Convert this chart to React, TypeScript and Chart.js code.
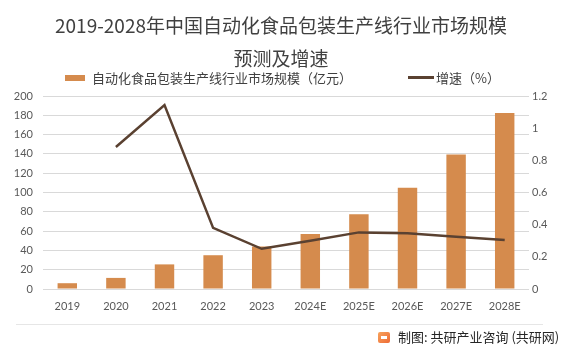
import React, { useEffect, useRef } from "react";
import { Chart, registerables } from "chart.js";

Chart.register(...registerables);

const categories = ["2019", "2020", "2021", "2022", "2023", "2024E", "2025E", "2026E", "2027E", "2028E"];
const marketSize = [6, 11.5, 25.5, 35, 44, 57, 77.5, 105, 139.5, 182.5];
const growthRate = [null, 0.883, 1.144, 0.38, 0.25, 0.3, 0.352, 0.346, 0.325, 0.305];
const titleLines = ["2019-2028年中国自动化食品包装生产线行业市场规模", "预测及增速"];
const barLabel = "自动化食品包装生产线行业市场规模（亿元）";
const lineLabel = "增速（%）";
const sourceText = "制图: 共研产业咨询 (共研网)";

const BAR_COLOR = "#D58B4D";
const LINE_COLOR = "#5A4131";
const TICK_COLOR = "#595959";
const TICK_FONT = { family: "Lato, 'Noto Sans', sans-serif", size: 11 };

export default function App() {
  const canvasRef = useRef<HTMLCanvasElement | null>(null);

  useEffect(() => {
    const canvas = canvasRef.current;
    if (!canvas) return;
    const chart = new Chart(canvas, {
      type: "bar",
      data: {
        labels: categories,
        datasets: [
          {
            type: "line",
            label: lineLabel,
            data: growthRate as any,
            yAxisID: "y1",
            borderColor: LINE_COLOR,
            backgroundColor: LINE_COLOR,
            borderWidth: 2.5,
            pointRadius: 0,
            tension: 0,
            order: 0,
          } as any,
          {
            type: "bar",
            label: barLabel,
            data: marketSize,
            yAxisID: "y",
            backgroundColor: BAR_COLOR,
            barPercentage: 0.4,
            categoryPercentage: 1,
            order: 1,
          },
        ],
      },
      options: {
        responsive: false,
        animation: false,
        layout: { padding: { top: 96, left: 0, right: 0, bottom: 0 } },
        plugins: {
          legend: { display: false },
          title: { display: false },
          tooltip: { enabled: false },
        },
        scales: {
          x: {
            offset: true,
            grid: { display: false, drawTicks: false },
            border: { display: false },
            ticks: { font: TICK_FONT, color: TICK_COLOR, padding: 11 },
            afterFit: (s: any) => {
              s.height = 64;
            },
          },
          y: {
            position: "left",
            min: 0,
            max: 200,
            ticks: { stepSize: 20, padding: 10, font: TICK_FONT, color: TICK_COLOR },
            grid: { color: "#D9D9D9", drawTicks: false },
            border: { display: false },
            afterFit: (s: any) => {
              s.width = 43;
            },
          },
          y1: {
            position: "right",
            min: 0,
            max: 1.2,
            ticks: {
              stepSize: 0.2,
              padding: 3,
              font: TICK_FONT,
              color: TICK_COLOR,
              callback: (v: any) => String(Number(Number(v).toFixed(1))),
            },
            grid: { display: false, drawTicks: false },
            border: { display: false },
            afterFit: (s: any) => {
              s.width = 39;
            },
          },
        },
      } as any,
    });
    return () => chart.destroy();
  }, []);

  const cjk = "'Noto Sans CJK SC', 'Noto Sans', sans-serif";

  return (
    <div
      style={{
        position: "absolute",
        left: 0,
        top: 0,
        width: 568,
        height: 353,
        background: "#ffffff",
        overflow: "hidden",
      }}
    >
      <canvas ref={canvasRef} width={568} height={353} style={{ position: "absolute", left: 0, top: 0, width: 568, height: 353 }} />
      {titleLines.map((t, i) => (
        <div
          key={i}
          style={{
            position: "absolute",
            left: 0,
            width: 562,
            top: 8 + i * 33,
            textAlign: "center",
            fontFamily: cjk,
            fontSize: 19,
            lineHeight: "33px",
            color: "#404040",
            whiteSpace: "nowrap",
          }}
        >
          {t}
        </div>
      ))}
      <div style={{ position: "absolute", left: 65, top: 75, width: 20, height: 6, background: BAR_COLOR }} />
      <div
        style={{
          position: "absolute",
          left: 92,
          top: 69,
          fontFamily: cjk,
          fontSize: 13,
          lineHeight: "18px",
          color: "#404040",
          whiteSpace: "nowrap",
        }}
      >
        {barLabel}
      </div>
      <div style={{ position: "absolute", left: 408, top: 76, width: 26, height: 3, background: LINE_COLOR }} />
      <div
        style={{
          position: "absolute",
          left: 436,
          top: 69,
          fontFamily: cjk,
          fontSize: 13,
          lineHeight: "18px",
          color: "#404040",
          whiteSpace: "nowrap",
        }}
      >
        {lineLabel}
      </div>
      <div style={{ position: "absolute", left: 16, top: 324, width: 527, height: 1, background: "#E6E6E6" }} />
      <div
        style={{
          position: "absolute",
          left: 378,
          top: 332,
          width: 12,
          height: 11,
          borderRadius: 2,
          background: "linear-gradient(135deg, #F7A35C, #EE6A35)",
        }}
      >
        <div style={{ position: "absolute", left: 3, top: 4, width: 6, height: 3, background: "#ffffff" }} />
      </div>
      <div
        style={{
          position: "absolute",
          left: 398,
          top: 328,
          fontFamily: cjk,
          fontSize: 13,
          lineHeight: "18px",
          color: "#262626",
          whiteSpace: "nowrap",
        }}
      >
        {sourceText}
      </div>
    </div>
  );
}
